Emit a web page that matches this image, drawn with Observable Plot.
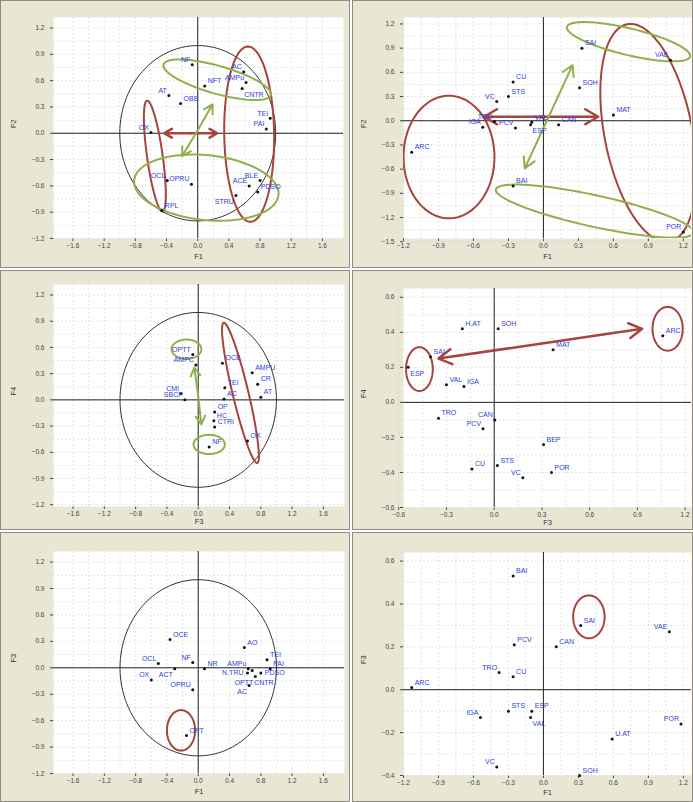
<!DOCTYPE html>
<html><head><meta charset="utf-8">
<script src="https://cdn.jsdelivr.net/npm/d3@7"></script>
<script src="https://cdn.jsdelivr.net/npm/@observablehq/plot@0.6"></script>
<style>
body{margin:0;background:#fff;font-family:"Liberation Sans",Arial,sans-serif;}
#wrap{position:relative;width:693px;height:802px;background:#fff;overflow:hidden;}
.panel{position:absolute;background:#e9e6d4;border:1px solid #8f8c80;box-sizing:border-box;}
.panel svg{display:block;background:transparent;}
</style></head><body><div id="wrap"></div>
<script>
// ---------- tick labels ----------
const ticksCircX = [-1.6,-1.2,-0.8,-0.4,0,0.4,0.8,1.2,1.6];
const ticksCircY = [-1.2,-0.9,-0.6,-0.3,0,0.3,0.6,0.9,1.2];
const ticksObsX  = [-1.2,-0.9,-0.6,-0.3,0,0.3,0.6,0.9,1.2];
const ticksP2Y   = [-1.5,-1.2,-0.9,-0.6,-0.3,0,0.3,0.6,0.9,1.2];
const ticksP4X   = [-0.6,-0.3,0,0.3,0.6,0.9,1.2];
const ticksP4Y   = [-0.6,-0.4,-0.2,0,0.2,0.4,0.6];
const ticksP6Y   = [-0.4,-0.2,0,0.2,0.4,0.6];

// ---------- panel 1 : variables, F1 x F2 ----------
const var12Names = ["NF","NFT","AT","OBB","AC","AMPu","CNTR","TEI","PAI","OX","OCL","OPRU","RPL","BLE","ACE","PDSO","STRU"];
const var12F1    = [-0.07,0.09,-0.37,-0.22,0.59,0.62,0.57,0.93,0.88,-0.60,-0.39,-0.08,-0.46,0.80,0.66,0.77,0.49];
const var12F2    = [0.78,0.54,0.43,0.34,0.70,0.58,0.51,0.17,0.05,0.01,-0.54,-0.58,-0.88,-0.54,-0.60,-0.67,-0.71];

// ---------- panel 2 : observations, F1 x F2 ----------
const obs12Names = ["SAI","VAE","SOH","MAT","CU","STS","VC","IGA","TRO","PCV","ESP","VAL","CAN","ARC","BAI","POR"];
const obs12F1    = [0.33,1.09,0.31,0.60,-0.26,-0.30,-0.40,-0.52,-0.42,-0.24,-0.11,-0.10,0.13,-1.13,-0.26,1.20];
const obs12F2    = [0.90,0.75,0.41,0.07,0.48,0.30,0.24,-0.08,-0.01,-0.09,-0.05,-0.02,-0.05,-0.39,-0.81,-1.38];

// ---------- panel 3 : variables, F3 x F4 ----------
const var34Names = ["OPTT","AMPC","CMI","SBCP","OCE","AMPU","CR","AT","TEI","AC","OP","HC","CTRI","NF","OX"];
const var34F3    = [-0.07,-0.03,-0.22,-0.17,0.31,0.69,0.76,0.80,0.34,0.33,0.21,0.20,0.21,0.14,0.63];
const var34F4    = [0.52,0.40,0.07,0.00,0.42,0.31,0.18,0.03,0.14,0.01,-0.14,-0.24,-0.31,-0.54,-0.47];

// ---------- panel 4 : observations, F3 x F4 ----------
const obs34Names = ["H.AT","SOH","ARC","MAT","SAI","ESP","VAL","IGA","TRO","CAN","PCV","BEP","POR","CU","STS","VC"];
const obs34F3    = [-0.20,0.025,1.06,0.37,-0.40,-0.54,-0.30,-0.19,-0.35,0.004,-0.07,0.31,0.36,-0.14,0.02,0.18];
const obs34F4    = [0.42,0.42,0.38,0.30,0.26,0.20,0.10,0.09,-0.09,-0.10,-0.15,-0.24,-0.40,-0.38,-0.36,-0.43];

// ---------- panel 5 : variables, F1 x F3 ----------
const var13Names = ["OCE","AO","OCL","NF","ACT","OX","NR","AMPu","N.TRU","TEI","PAI","CNTR","PDSO","OPTT","AC","OPRU","OPT"];
const var13F1    = [-0.36,0.59,-0.51,-0.07,-0.30,-0.60,0.08,0.64,0.63,0.88,0.92,0.69,0.80,0.73,0.65,-0.07,-0.15];
const var13F3    = [0.32,0.23,0.05,0.06,-0.01,-0.14,-0.01,-0.01,-0.06,0.09,-0.01,-0.03,-0.06,-0.10,-0.20,-0.25,-0.77];

// ---------- panel 6 : observations, F1 x F3 ----------
const obs13Names = ["BAI","SAI","VAE","PCV","CAN","TRO","CU","ARC","IGA","STS","ESP","VAL","U.AT","POR","VC","SOH"];
const obs13F1    = [-0.26,0.32,1.08,-0.25,0.11,-0.38,-0.26,-1.13,-0.54,-0.30,-0.10,-0.11,0.59,1.18,-0.40,0.31];
const obs13F3    = [0.53,0.30,0.27,0.21,0.20,0.08,0.06,0.01,-0.13,-0.10,-0.10,-0.13,-0.23,-0.16,-0.36,-0.40];

// ---------- annotation ellipses (data units: centre, semi-axes, angle) ----------
const ell1Red   = [{cx:0.66,cy:-0.01,a:1.0,b:0.32,angle:91},{cx:-0.55,cy:-0.26,a:0.64,b:0.10,angle:-81}];
const ell1Green = [{cx:0.25,cy:0.61,a:0.71,b:0.16,angle:-14},{cx:0.11,cy:-0.62,a:0.93,b:0.37,angle:-5}];
const ell2Red   = [{cx:-0.81,cy:-0.45,a:0.39,b:0.76,angle:0},{cx:0.90,cy:-0.15,a:1.36,b:0.38,angle:97}];
const ell2Green = [{cx:0.73,cy:0.98,a:0.56,b:0.16,angle:-20},{cx:0.44,cy:-1.12,a:0.89,b:0.19,angle:-18}];
const ell3Red   = [{cx:0.54,cy:0.08,a:0.83,b:0.10,angle:105}];
const ell3Green = [{cx:-0.15,cy:0.58,a:0.19,b:0.11,angle:0},{cx:0.14,cy:-0.51,a:0.20,b:0.11,angle:0}];
const ell4Red   = [{cx:1.09,cy:0.42,a:0.095,b:0.125,angle:0},{cx:-0.47,cy:0.19,a:0.084,b:0.125,angle:0}];
const ell5Red   = [{cx:-0.22,cy:-0.71,a:0.18,b:0.23,angle:0}];
const ell6Red   = [{cx:0.39,cy:0.34,a:0.135,b:0.10,angle:0}];

// ---------- annotation double arrows (centre -> two ends) ----------
const arr1Red   = [{x0:-0.09,y0:0,x1:-0.43,y1:0,x2:0.25,y2:0}];
const arr1Green = [{x0:0,y0:0.035,x1:-0.20,y1:-0.26,x2:0.19,y2:0.33}];
const arr2Red   = [{x0:-0.02,y0:0.05,x1:-0.51,y1:0.05,x2:0.47,y2:0.05}];
const arr2Green = [{x0:0.045,y0:0.05,x1:-0.16,y1:-0.59,x2:0.25,y2:0.69}];
const arr3Green = [{x0:0,y0:0.045,x1:-0.05,y1:0.37,x2:0.04,y2:-0.28}];
const arr4Red   = [{x0:0.29,y0:0.335,x1:-0.35,y1:0.25,x2:0.93,y2:0.42}];

// label placement per panel: l = above-left, r = above-right (default), bl/br = below, lm/rm = beside
const place1 = {NF:"l",AC:"l",AMPu:"l",TEI:"l",PAI:"l",OX:"l",OCL:"l",OPRU:"l",BLE:"l",ACE:"l",STRU:"bl",AT:"l",CNTR:"br"};
const place2 = {VAE:"l",IGA:"l",PCV:"l",POR:"l",VC:"l",TRO:"l",ESP:"br"};
const place3 = {OPTT:"l",AMPC:"l",CMI:"l",SBCP:"l"};
const place4 = {VC:"l",PCV:"l",CAN:"l",ESP:"br"};
const place5 = {OCL:"l",ACT:"bl",OX:"l","N.TRU":"lm",OPRU:"l",AC:"bl",NF:"l",AMPu:"l",CNTR:"br2",PDSO:"rm",OPTT:"bl"};
const place6 = {VAE:"l",POR:"l",IGA:"l",TRO:"l",VC:"l",VAL:"br"};

const RED = "#a6443d", GREEN = "#90b04c", BLUE = "#2b3fd6";

function ellipsePts(list){
  const out = [];
  list.forEach((e,i)=>{
    const th = e.angle*Math.PI/180;
    for(let t=0;t<=360;t+=4){
      const r=t*Math.PI/180;
      out.push({id:i,
        x:e.cx + e.a*Math.cos(r)*Math.cos(th) - e.b*Math.sin(r)*Math.sin(th),
        y:e.cy + e.a*Math.cos(r)*Math.sin(th) + e.b*Math.sin(r)*Math.cos(th)});
    }
  });
  return out;
}
function arrowSegs(list){
  const out=[];
  list.forEach(a=>{out.push({x1:a.x0,y1:a.y0,x2:a.x1,y2:a.y1});out.push({x1:a.x0,y1:a.y0,x2:a.x2,y2:a.y2});});
  return out;
}
function midGrid(t){
  const g=[...t];
  for(let i=0;i<t.length-1;i++) g.push((t[i]+t[i+1])/2);
  return g;
}
const unitCircle = d3.range(0,361,3).map(t=>({x:Math.cos(t*Math.PI/180),y:Math.sin(t*Math.PI/180)}));
const placeOpts = {
  r:{textAnchor:"start",dx:3,dy:-5},
  l:{textAnchor:"end",dx:-2,dy:-5},
  br:{textAnchor:"start",dx:2,dy:6},
  br2:{textAnchor:"start",dx:2,dy:12},
  bl:{textAnchor:"end",dx:-2,dy:6},
  lm:{textAnchor:"end",dx:-4,dy:0},
  rm:{textAnchor:"start",dx:4,dy:0}
};

function panel(cfg){
  const pts = cfg.names.map((n,i)=>({name:n,x:cfg.xs[i],y:cfg.ys[i],p:cfg.place[n]||"r"}));
  const marks = [
    Plot.frame({fill:"white"}),
    Plot.ruleX(midGrid(cfg.xticks),{stroke:"#c4c4c4",strokeWidth:0.6,strokeDasharray:"1.5,2.5"}),
    Plot.ruleY(midGrid(cfg.yticks),{stroke:"#c4c4c4",strokeWidth:0.6,strokeDasharray:"1.5,2.5"}),
    Plot.ruleX([0],{stroke:"#222",strokeWidth:1}),
    Plot.ruleY([0],{stroke:"#222",strokeWidth:1})
  ];
  if(cfg.circle) marks.push(Plot.line(unitCircle,{x:"x",y:"y",stroke:"#333",strokeWidth:1}));
  if(cfg.red) marks.push(Plot.line(ellipsePts(cfg.red),{x:"x",y:"y",z:"id",stroke:RED,strokeWidth:2,clip:true}));
  if(cfg.green) marks.push(Plot.line(ellipsePts(cfg.green),{x:"x",y:"y",z:"id",stroke:GREEN,strokeWidth:2,clip:true}));
  if(cfg.arrRed) marks.push(Plot.arrow(arrowSegs(cfg.arrRed),{x1:"x1",y1:"y1",x2:"x2",y2:"y2",stroke:RED,strokeWidth:2.5,headLength:9}));
  if(cfg.arrGreen) marks.push(Plot.arrow(arrowSegs(cfg.arrGreen),{x1:"x1",y1:"y1",x2:"x2",y2:"y2",stroke:GREEN,strokeWidth:2,headLength:9}));
  marks.push(Plot.dot(pts,{x:"x",y:"y",r:1.5,fill:"#111"}));
  for(const k of Object.keys(placeOpts)){
    const sub = pts.filter(d=>d.p===k);
    if(sub.length) marks.push(Plot.text(sub,{x:"x",y:"y",text:"name",fill:BLUE,fontSize:7,...placeOpts[k]}));
  }
  marks.push(
    Plot.text([cfg.xlabel],{frameAnchor:"bottom",text:d=>d,dy:cfg.xlabDy,fontSize:7.5,fill:"#333"}),
    Plot.text([cfg.ylabel],{frameAnchor:"left",text:d=>d,dx:-40,rotate:-90,fontSize:7.5,fill:"#333"})
  );
  return Plot.plot({
    width:cfg.w, height:cfg.h,
    marginLeft:cfg.ml, marginRight:cfg.mr, marginTop:cfg.mt, marginBottom:cfg.mb,
    style:{fontFamily:"Liberation Sans, Arial, sans-serif",fontSize:"6.5px",color:"#444",background:"transparent"},
    x:{domain:cfg.xdom,ticks:cfg.xticks,tickFormat:d3.format(".1f"),tickSize:3,tickPadding:2,label:null},
    y:{domain:cfg.ydom,ticks:cfg.yticks,tickFormat:d3.format(".1f"),tickSize:3,label:null},
    marks
  });
}

const panels = [
  {box:[0,0,350,268],w:348,h:266,ml:52,mr:6,mt:16,mb:29,xlabDy:20,xdom:[-1.85,1.87],ydom:[-1.2,1.32],xticks:ticksCircX,yticks:ticksCircY,
   names:var12Names,xs:var12F1,ys:var12F2,place:place1,circle:true,red:ell1Red,green:ell1Green,arrRed:arr1Red,arrGreen:arr1Green,xlabel:"F1",ylabel:"F2"},
  {box:[352,0,341,268],w:339,h:266,ml:50,mr:1,mt:16,mb:29,xlabDy:20,xdom:[-1.2,1.27],ydom:[-1.46,1.28],xticks:ticksObsX,yticks:ticksP2Y,
   names:obs12Names,xs:obs12F1,ys:obs12F2,place:place2,red:ell2Red,green:ell2Green,arrRed:arr2Red,arrGreen:arr2Green,xlabel:"F1",ylabel:"F2"},
  {box:[0,270,350,260],w:348,h:258,ml:52,mr:5,mt:13,mb:23,xlabDy:17.5,xdom:[-1.85,1.87],ydom:[-1.22,1.32],xticks:ticksCircX,yticks:ticksCircY,
   names:var34Names,xs:var34F3,ys:var34F4,place:place3,circle:true,red:ell3Red,green:ell3Green,arrGreen:arr3Green,xlabel:"F3",ylabel:"F4"},
  {box:[352,270,341,260],w:339,h:258,ml:50,mr:1,mt:17,mb:22,xlabDy:17,xdom:[-0.57,1.24],ydom:[-0.6,0.65],xticks:ticksP4X,yticks:ticksP4Y,
   names:obs34Names,xs:obs34F3,ys:obs34F4,place:place4,red:ell4Red,arrRed:arr4Red,xlabel:"F3",ylabel:"F4"},
  {box:[0,532,350,270],w:348,h:268,ml:52,mr:5,mt:18,mb:28,xlabDy:20,xdom:[-1.85,1.87],ydom:[-1.2,1.32],xticks:ticksCircX,yticks:ticksCircY,
   names:var13Names,xs:var13F1,ys:var13F3,place:place5,circle:true,red:ell5Red,xlabel:"F1",ylabel:"F3"},
  {box:[352,532,341,270],w:339,h:268,ml:50,mr:1,mt:19,mb:26,xlabDy:19,xdom:[-1.2,1.27],ydom:[-0.4,0.64],xticks:ticksObsX,yticks:ticksP6Y,
   names:obs13Names,xs:obs13F1,ys:obs13F3,place:place6,red:ell6Red,xlabel:"F1",ylabel:"F3"}
];

const wrap = document.getElementById("wrap");
panels.forEach(cfg=>{
  const div = document.createElement("div");
  div.className="panel";
  div.style.left=cfg.box[0]+"px"; div.style.top=cfg.box[1]+"px";
  div.style.width=cfg.box[2]+"px"; div.style.height=cfg.box[3]+"px";
  div.appendChild(panel(cfg));
  wrap.appendChild(div);
});
</script></body></html>
